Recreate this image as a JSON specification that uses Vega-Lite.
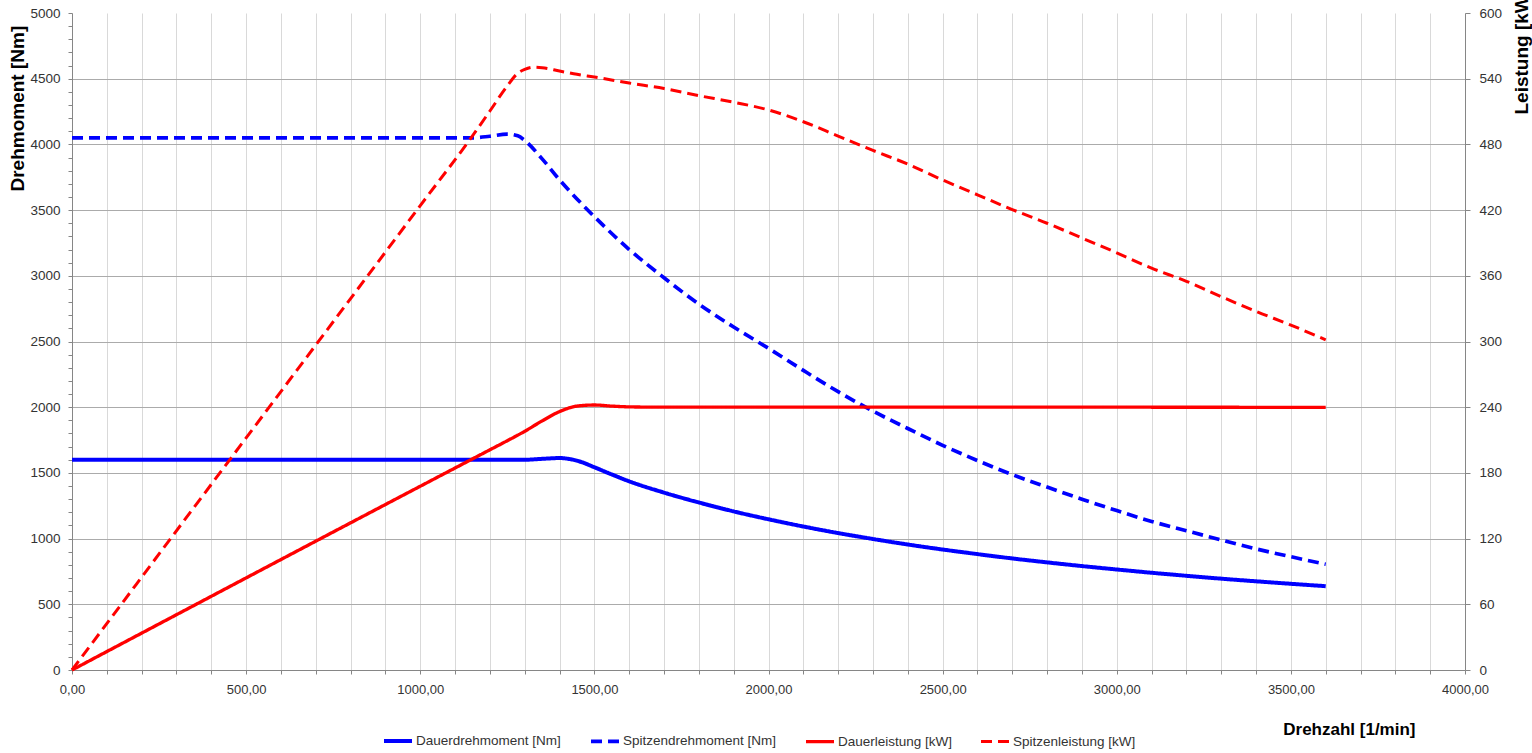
{
  "$schema": "https://vega.github.io/schema/vega-lite/v6.json",
  "width": 1393,
  "height": 657,
  "autosize": "none",
  "padding": {"left": 72, "top": 13, "right": 67, "bottom": 83},
  "background": "white",
  "config": {
    "view": {"stroke": null},
    "font": "Liberation Sans",
    "axis": {"labelColor": "#333333", "titleColor": "#000000", "domainColor": "#868686", "tickColor": "#868686", "labelFontSize": 13.5, "labelFlush": false, "labelOverlap": false}
  },
  "datasets": {
    "torque": [
      {"n": 0, "s": "Dauerdrehmoment [Nm]", "v": 1600},
      {"n": 1300, "s": "Dauerdrehmoment [Nm]", "v": 1600},
      {"n": 1350, "s": "Dauerdrehmoment [Nm]", "v": 1607},
      {"n": 1400, "s": "Dauerdrehmoment [Nm]", "v": 1613},
      {"n": 1430, "s": "Dauerdrehmoment [Nm]", "v": 1605},
      {"n": 1460, "s": "Dauerdrehmoment [Nm]", "v": 1585},
      {"n": 1500, "s": "Dauerdrehmoment [Nm]", "v": 1543},
      {"n": 1550, "s": "Dauerdrehmoment [Nm]", "v": 1488},
      {"n": 1600, "s": "Dauerdrehmoment [Nm]", "v": 1436},
      {"n": 1700, "s": "Dauerdrehmoment [Nm]", "v": 1350},
      {"n": 1800, "s": "Dauerdrehmoment [Nm]", "v": 1275},
      {"n": 1900, "s": "Dauerdrehmoment [Nm]", "v": 1207},
      {"n": 2000, "s": "Dauerdrehmoment [Nm]", "v": 1147},
      {"n": 2100, "s": "Dauerdrehmoment [Nm]", "v": 1092},
      {"n": 2200, "s": "Dauerdrehmoment [Nm]", "v": 1042},
      {"n": 2300, "s": "Dauerdrehmoment [Nm]", "v": 997},
      {"n": 2400, "s": "Dauerdrehmoment [Nm]", "v": 955},
      {"n": 2500, "s": "Dauerdrehmoment [Nm]", "v": 917},
      {"n": 2600, "s": "Dauerdrehmoment [Nm]", "v": 882},
      {"n": 2700, "s": "Dauerdrehmoment [Nm]", "v": 849},
      {"n": 2800, "s": "Dauerdrehmoment [Nm]", "v": 819},
      {"n": 2900, "s": "Dauerdrehmoment [Nm]", "v": 791},
      {"n": 3000, "s": "Dauerdrehmoment [Nm]", "v": 765},
      {"n": 3100, "s": "Dauerdrehmoment [Nm]", "v": 740},
      {"n": 3200, "s": "Dauerdrehmoment [Nm]", "v": 717},
      {"n": 3300, "s": "Dauerdrehmoment [Nm]", "v": 695},
      {"n": 3400, "s": "Dauerdrehmoment [Nm]", "v": 675},
      {"n": 3500, "s": "Dauerdrehmoment [Nm]", "v": 656},
      {"n": 3600, "s": "Dauerdrehmoment [Nm]", "v": 638},
      {"n": 0, "s": "Spitzendrehmoment [Nm]", "v": 4050},
      {"n": 1150, "s": "Spitzendrehmoment [Nm]", "v": 4050},
      {"n": 1200, "s": "Spitzendrehmoment [Nm]", "v": 4062},
      {"n": 1250, "s": "Spitzendrehmoment [Nm]", "v": 4078},
      {"n": 1280, "s": "Spitzendrehmoment [Nm]", "v": 4065},
      {"n": 1300, "s": "Spitzendrehmoment [Nm]", "v": 4030},
      {"n": 1350, "s": "Spitzendrehmoment [Nm]", "v": 3890},
      {"n": 1400, "s": "Spitzendrehmoment [Nm]", "v": 3730},
      {"n": 1450, "s": "Spitzendrehmoment [Nm]", "v": 3585},
      {"n": 1500, "s": "Spitzendrehmoment [Nm]", "v": 3450},
      {"n": 1600, "s": "Spitzendrehmoment [Nm]", "v": 3200},
      {"n": 1700, "s": "Spitzendrehmoment [Nm]", "v": 2985},
      {"n": 1800, "s": "Spitzendrehmoment [Nm]", "v": 2785},
      {"n": 1900, "s": "Spitzendrehmoment [Nm]", "v": 2610},
      {"n": 2000, "s": "Spitzendrehmoment [Nm]", "v": 2448},
      {"n": 2100, "s": "Spitzendrehmoment [Nm]", "v": 2280},
      {"n": 2200, "s": "Spitzendrehmoment [Nm]", "v": 2118},
      {"n": 2300, "s": "Spitzendrehmoment [Nm]", "v": 1970},
      {"n": 2400, "s": "Spitzendrehmoment [Nm]", "v": 1838},
      {"n": 2500, "s": "Spitzendrehmoment [Nm]", "v": 1710},
      {"n": 2600, "s": "Spitzendrehmoment [Nm]", "v": 1594},
      {"n": 2700, "s": "Spitzendrehmoment [Nm]", "v": 1487},
      {"n": 2800, "s": "Spitzendrehmoment [Nm]", "v": 1392},
      {"n": 2900, "s": "Spitzendrehmoment [Nm]", "v": 1300},
      {"n": 3000, "s": "Spitzendrehmoment [Nm]", "v": 1213},
      {"n": 3100, "s": "Spitzendrehmoment [Nm]", "v": 1131},
      {"n": 3200, "s": "Spitzendrehmoment [Nm]", "v": 1060},
      {"n": 3300, "s": "Spitzendrehmoment [Nm]", "v": 990},
      {"n": 3400, "s": "Spitzendrehmoment [Nm]", "v": 922},
      {"n": 3500, "s": "Spitzendrehmoment [Nm]", "v": 862},
      {"n": 3600, "s": "Spitzendrehmoment [Nm]", "v": 805}
    ],
    "power": [
      {"n": 0, "s": "Dauerleistung [kW]", "v": 0},
      {"n": 1200, "s": "Dauerleistung [kW]", "v": 201.1},
      {"n": 1250, "s": "Dauerleistung [kW]", "v": 209.4},
      {"n": 1300, "s": "Dauerleistung [kW]", "v": 218},
      {"n": 1350, "s": "Dauerleistung [kW]", "v": 227.5},
      {"n": 1400, "s": "Dauerleistung [kW]", "v": 236},
      {"n": 1450, "s": "Dauerleistung [kW]", "v": 241},
      {"n": 1500, "s": "Dauerleistung [kW]", "v": 242},
      {"n": 1550, "s": "Dauerleistung [kW]", "v": 241},
      {"n": 1600, "s": "Dauerleistung [kW]", "v": 240.3},
      {"n": 1700, "s": "Dauerleistung [kW]", "v": 240},
      {"n": 2000, "s": "Dauerleistung [kW]", "v": 240},
      {"n": 2500, "s": "Dauerleistung [kW]", "v": 240},
      {"n": 3000, "s": "Dauerleistung [kW]", "v": 240},
      {"n": 3600, "s": "Dauerleistung [kW]", "v": 239.8},
      {"n": 0, "s": "Spitzenleistung [kW]", "v": 0},
      {"n": 1000, "s": "Spitzenleistung [kW]", "v": 424.1},
      {"n": 1150, "s": "Spitzenleistung [kW]", "v": 487.8},
      {"n": 1200, "s": "Spitzenleistung [kW]", "v": 510.5},
      {"n": 1250, "s": "Spitzenleistung [kW]", "v": 533.5},
      {"n": 1280, "s": "Spitzenleistung [kW]", "v": 545},
      {"n": 1300, "s": "Spitzenleistung [kW]", "v": 548.5},
      {"n": 1325, "s": "Spitzenleistung [kW]", "v": 550.5},
      {"n": 1350, "s": "Spitzenleistung [kW]", "v": 550},
      {"n": 1400, "s": "Spitzenleistung [kW]", "v": 547},
      {"n": 1450, "s": "Spitzenleistung [kW]", "v": 544},
      {"n": 1500, "s": "Spitzenleistung [kW]", "v": 541.5},
      {"n": 1600, "s": "Spitzenleistung [kW]", "v": 536},
      {"n": 1700, "s": "Spitzenleistung [kW]", "v": 531},
      {"n": 1800, "s": "Spitzenleistung [kW]", "v": 524.5},
      {"n": 1900, "s": "Spitzenleistung [kW]", "v": 518.5},
      {"n": 2000, "s": "Spitzenleistung [kW]", "v": 511.5},
      {"n": 2100, "s": "Spitzenleistung [kW]", "v": 500.7},
      {"n": 2200, "s": "Spitzenleistung [kW]", "v": 487.6},
      {"n": 2300, "s": "Spitzenleistung [kW]", "v": 474.5},
      {"n": 2400, "s": "Spitzenleistung [kW]", "v": 462},
      {"n": 2500, "s": "Spitzenleistung [kW]", "v": 447.5},
      {"n": 2600, "s": "Spitzenleistung [kW]", "v": 434},
      {"n": 2700, "s": "Spitzenleistung [kW]", "v": 420.5},
      {"n": 2800, "s": "Spitzenleistung [kW]", "v": 408},
      {"n": 2900, "s": "Spitzenleistung [kW]", "v": 394.5},
      {"n": 3000, "s": "Spitzenleistung [kW]", "v": 381},
      {"n": 3100, "s": "Spitzenleistung [kW]", "v": 367},
      {"n": 3200, "s": "Spitzenleistung [kW]", "v": 355},
      {"n": 3300, "s": "Spitzenleistung [kW]", "v": 341},
      {"n": 3400, "s": "Spitzenleistung [kW]", "v": 327.5},
      {"n": 3500, "s": "Spitzenleistung [kW]", "v": 315},
      {"n": 3600, "s": "Spitzenleistung [kW]", "v": 301.5}
    ]
  },
  "layer": [
    {
      "data": {"name": "torque"},
      "mark": {"type": "line", "interpolate": "monotone", "strokeCap": "butt"},
      "encoding": {
        "x": {
          "field": "n", "type": "quantitative",
          "scale": {"domain": [0, 4000], "nice": false},
          "axis": {
            "values": [0,100,200,300,400,500,600,700,800,900,1000,1100,1200,1300,1400,1500,1600,1700,1800,1900,2000,2100,2200,2300,2400,2500,2600,2700,2800,2900,3000,3100,3200,3300,3400,3500,3600,3700,3800,3900,4000],
            "labelExpr": "datum.value % 500 === 0 ? replace(format(datum.value, '.2f'), '.', ',') : ''",
            "labelOverlap": false, "labelFlush": false,
            "grid": true, "gridColor": "#d9d9d9", "gridWidth": 1,
            "tickSize": 4, "labelPadding": 9, "labelFontSize": 13,
            "title": "Drehzahl [1/min]", "titleX": 1343, "titleY": 59, "titleAlign": "right", "titleBaseline": "middle",
            "titleFontSize": 17, "titleFontWeight": "bold"
          }
        },
        "y": {
          "field": "v", "type": "quantitative",
          "scale": {"domain": [0, 5000], "nice": false, "zero": true},
          "axis": {
            "orient": "left",
            "values": [0,100,200,300,400,500,600,700,800,900,1000,1100,1200,1300,1400,1500,1600,1700,1800,1900,2000,2100,2200,2300,2400,2500,2600,2700,2800,2900,3000,3100,3200,3300,3400,3500,3600,3700,3800,3900,4000,4100,4200,4300,4400,4500,4600,4700,4800,4900,5000],
            "labelExpr": "datum.value % 500 === 0 ? format(datum.value, 'd') : ''",
            "labelOverlap": false, "labelFlush": false,
            "grid": true, "gridColor": "#ababab", "gridWidth": 1,
            "gridOpacity": {"condition": {"test": "datum.value % 500 === 0 && datum.value < 5000 && datum.value > 0", "value": 1}, "value": 0},
            "tickSize": 4, "labelPadding": 8,
            "title": "Drehmoment [Nm]", "titleAngle": 270, "titleX": -55, "titleY": 178, "titleAlign": "left", "titleBaseline": "middle",
            "titleFontSize": 19, "titleFontWeight": "bold"
          }
        },
        "color": {
          "field": "s", "type": "nominal",
          "scale": {"domain": ["Dauerdrehmoment [Nm]", "Spitzendrehmoment [Nm]", "Dauerleistung [kW]", "Spitzenleistung [kW]"], "range": ["#0000ff", "#0000ff", "#ff0000", "#ff0000"]},
          "legend": {"title": null, "orient": "none", "legendX": 310, "legendY": 712, "direction": "horizontal", "columns": 4, "symbolType": "stroke", "symbolSize": 784, "labelFontSize": 13.5, "labelColor": "#333333", "columnPadding": 22, "labelOffset": 2, "labelLimit": 300}
        },
        "strokeDash": {
          "field": "s", "type": "nominal",
          "scale": {"domain": ["Dauerdrehmoment [Nm]", "Spitzendrehmoment [Nm]", "Dauerleistung [kW]", "Spitzenleistung [kW]"], "range": [[1, 0], [11, 6], [1, 0], [11, 6]]},
          "legend": {"title": null}
        },
        "strokeWidth": {
          "field": "s", "type": "nominal",
          "scale": {"domain": ["Dauerdrehmoment [Nm]", "Spitzendrehmoment [Nm]", "Dauerleistung [kW]", "Spitzenleistung [kW]"], "range": [4, 3, 2.6, 3]},
          "legend": {"title": null}
        }
      }
    },
    {
      "data": {"name": "power"},
      "mark": {"type": "line", "interpolate": "monotone", "strokeCap": "butt"},
      "encoding": {
        "x": {
          "field": "n", "type": "quantitative",
          "scale": {"domain": [0, 4000], "nice": false},
          "axis": {
            "values": [0,100,200,300,400,500,600,700,800,900,1000,1100,1200,1300,1400,1500,1600,1700,1800,1900,2000,2100,2200,2300,2400,2500,2600,2700,2800,2900,3000,3100,3200,3300,3400,3500,3600,3700,3800,3900,4000],
            "labelExpr": "datum.value % 500 === 0 ? replace(format(datum.value, '.2f'), '.', ',') : ''",
            "labelOverlap": false, "labelFlush": false,
            "grid": true, "gridColor": "#d9d9d9", "gridWidth": 1,
            "tickSize": 4, "labelPadding": 9, "labelFontSize": 13,
            "title": "Drehzahl [1/min]", "titleX": 1343, "titleY": 59, "titleAlign": "right", "titleBaseline": "middle",
            "titleFontSize": 17, "titleFontWeight": "bold"
          }
        },
        "y": {
          "field": "v", "type": "quantitative",
          "scale": {"domain": [0, 600], "nice": false, "zero": true},
          "axis": {
            "orient": "right",
            "values": [0,60,120,180,240,300,360,420,480,540,600],
            "labelOverlap": false, "labelFlush": false,
            "grid": false, "tickSize": 5, "labelPadding": 9,
            "title": "Leistung [kW]", "titleAngle": 270, "titleX": 56, "titleY": 101, "titleAlign": "left", "titleBaseline": "middle",
            "titleFontSize": 19, "titleFontWeight": "bold"
          }
        },
        "color": {
          "field": "s", "type": "nominal",
          "scale": {"domain": ["Dauerdrehmoment [Nm]", "Spitzendrehmoment [Nm]", "Dauerleistung [kW]", "Spitzenleistung [kW]"], "range": ["#0000ff", "#0000ff", "#ff0000", "#ff0000"]}
        },
        "strokeDash": {
          "field": "s", "type": "nominal",
          "scale": {"domain": ["Dauerdrehmoment [Nm]", "Spitzendrehmoment [Nm]", "Dauerleistung [kW]", "Spitzenleistung [kW]"], "range": [[1, 0], [11, 6], [1, 0], [11, 6]]}
        },
        "strokeWidth": {
          "field": "s", "type": "nominal",
          "scale": {"domain": ["Dauerdrehmoment [Nm]", "Spitzendrehmoment [Nm]", "Dauerleistung [kW]", "Spitzenleistung [kW]"], "range": [4, 3, 2.6, 3]}
        }
      }
    }
  ],
  "resolve": {"scale": {"y": "independent"}}
}
